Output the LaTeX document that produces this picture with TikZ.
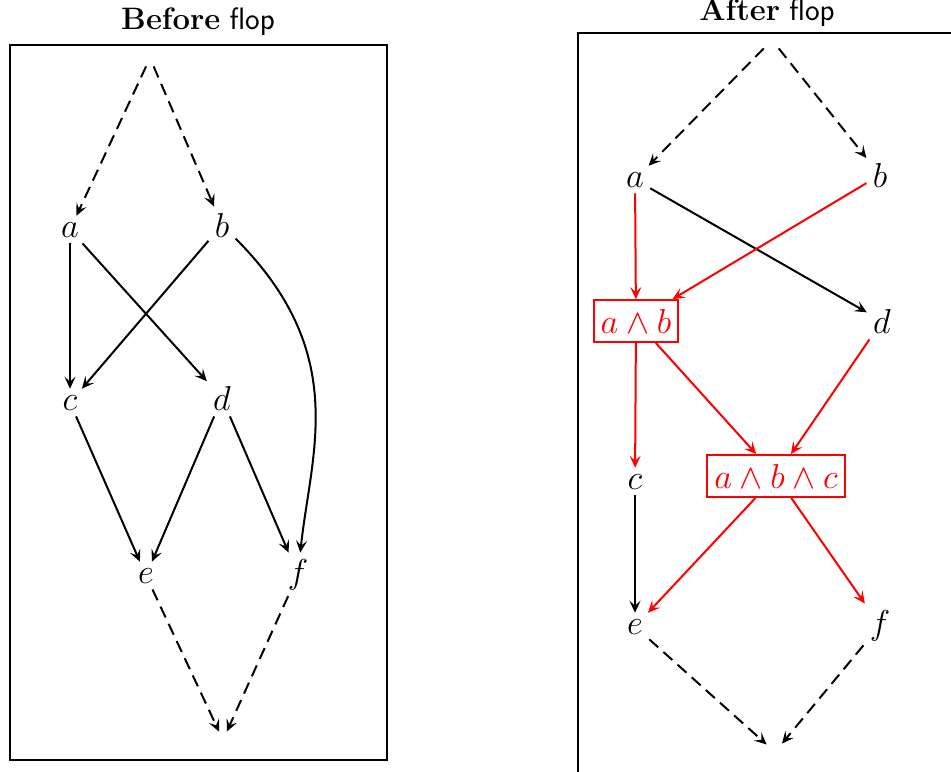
\documentclass[tikz,border=0pt]{standalone}
\usepackage{fix-cm}
\usetikzlibrary{arrows.meta}

\begin{document}
\begin{tikzpicture}[
    x=0.5pt, y=-0.5pt,
    title node/.style={font=\fontsize{15.5}{19}\selectfont, anchor=base},
    var node/.style={font=\LARGE, anchor=base, inner sep=3pt},
    meet node/.style={font=\LARGE, anchor=base, draw=red, text=red,
        inner xsep=3.5pt, inner ysep=4.5pt, line width=0.9pt},
    end node/.style={inner sep=4pt},
    frame line/.style={line width=1.3pt},
    edge line/.style={-{Stealth[length=6pt, width=5.5pt, inset=2.5pt]}, line width=1pt},
    meet line/.style={edge line, red},
    flow line/.style={edge line, dash pattern=on 6pt off 3.5pt}
]

%================CANVAS================
% one unit is one pixel of the 951 x 771 page
\useasboundingbox (0,0) rectangle (951,771);
%======================================

% --- 1. Before flop ---
\draw[frame line] (10,45) rectangle (387,760);
\node[title node] (titleL) at (198,29) {\textbf{Before} \textsf{flop}};

\node[end node] (topL) at (150,58) {};
\node[var node] (aL) at (70,237) {$a$};
\node[var node] (bL) at (222,237) {$b$};
\node[var node] (cL) at (70,410) {$c$};
\node[var node] (dL) at (222,410) {$d$};
\node[var node] (eL) at (146,583) {$e$};
\node[var node] (fL) at (298,583) {$f$};
\node[end node] (botL) at (223,740) {};

\draw[flow line] (topL) -- (aL);
\draw[flow line] (topL) -- (bL);
\draw[edge line] (aL) -- (cL);
\draw[edge line] (aL) -- (dL);
\draw[edge line] (bL) -- (cL);
\draw[edge line] (bL) to[out=-45, in=84, out looseness=1.3, in looseness=0.8] (fL);
\draw[edge line] (cL) -- (eL);
\draw[edge line] (dL) -- (eL);
\draw[edge line] (dL) -- (fL);
\draw[flow line] (eL) -- (botL);
\draw[flow line] (fL) -- (botL);

% --- 2. After flop ---
\draw[frame line] (578,33) rectangle (956,776);
\node[title node] (titleR) at (767,20) {\textbf{After} \textsf{flop}};

\node[end node] (topR) at (772,40) {};
\node[var node] (aR) at (635,187) {$a$};
\node[var node] (bR) at (880,187) {$b$};
\node[meet node] (abR) at (636,333) {$a\wedge b$};
\node[var node] (dR) at (882,333) {$d$};
\node[var node] (cR) at (635,489) {$c$};
\node[meet node] (abcR) at (776,488) {$a\wedge b\wedge c$};
\node[var node] (eR) at (635,634) {$e$};
\node[var node] (fR) at (880,634) {$f$};
\node[end node] (botR) at (775,752) {};

\draw[flow line] (topR) -- (aR);
\draw[flow line] (topR) -- (bR);
\draw[meet line] (aR) -- (abR);
\draw[edge line] (aR) -- (dR);
\draw[meet line] (bR) -- (abR);
\draw[meet line] (abR) -- (cR);
\draw[meet line] (abR) -- (abcR);
\draw[meet line] (dR) -- (abcR);
\draw[edge line] (cR) -- (eR);
\draw[meet line] (abcR) -- (eR);
\draw[meet line] (abcR) -- (fR);
\draw[flow line] (eR) -- (botR);
\draw[flow line] (fR) -- (botR);

\end{tikzpicture}
\end{document}
